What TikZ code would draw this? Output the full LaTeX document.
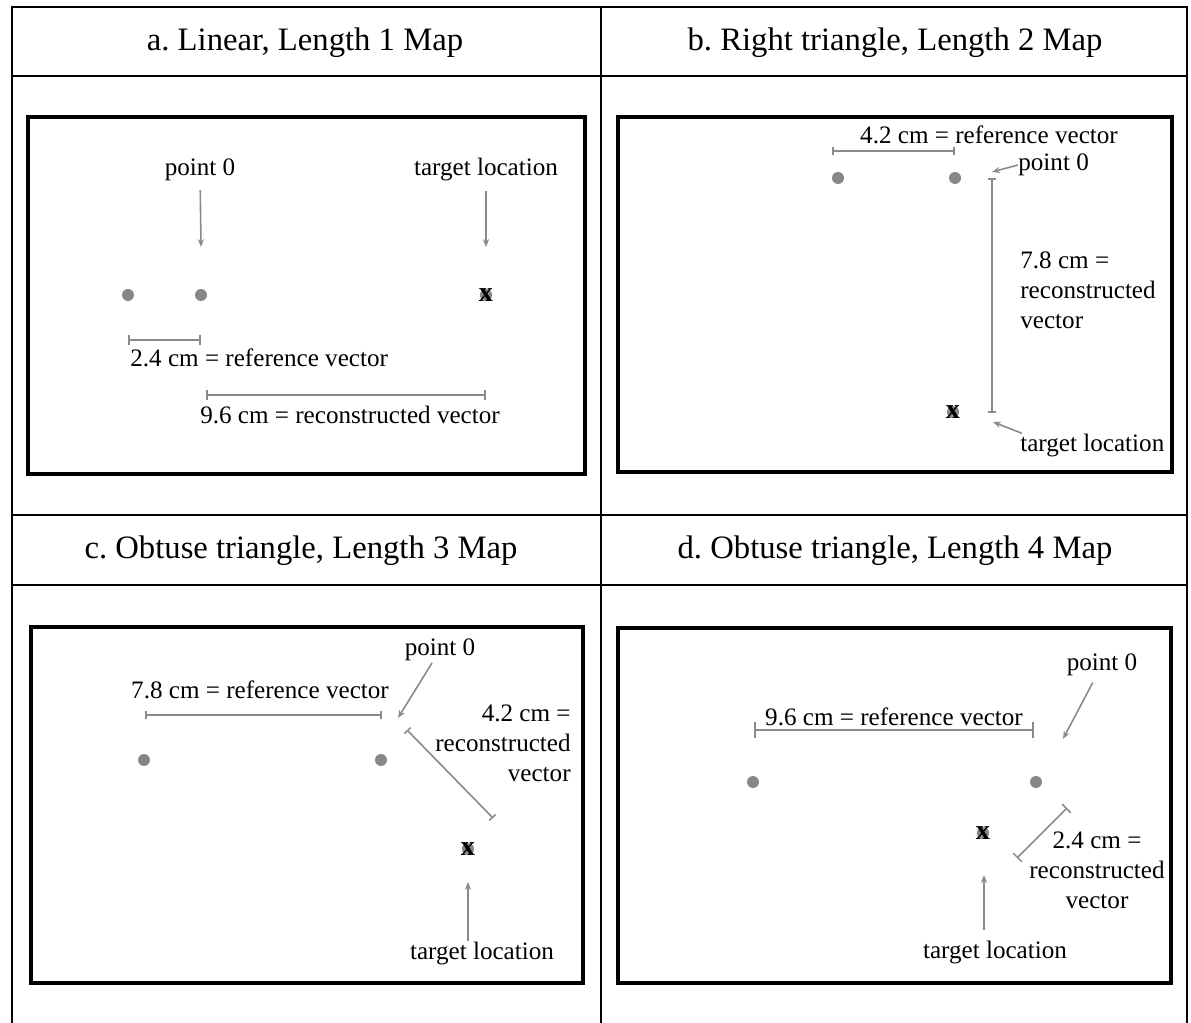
\documentclass[tikz,border=0pt]{standalone}
\usepackage{fontspec}
\setmainfont{Liberation Serif}
\usepackage{tikz}
\usetikzlibrary{arrows.meta, positioning}

\definecolor{linegray}{HTML}{8A8A8A}
\definecolor{dotgray}{HTML}{878787}
\frenchspacing

\begin{document}
\begin{tikzpicture}[
      x=0.02cm, y=-0.02cm,
      tablerule/.style={line width=0.9pt},
      mapbox/.style={draw, line width=2pt},
      head/.style={inner sep=0pt, font=\fontsize{18.6}{22}\selectfont},
      lbl/.style={inner sep=0pt, font=\fontsize{14.3}{17}\selectfont},
      mapdot/.style={circle, fill=dotgray, inner sep=0pt, minimum size=0.24cm},
      target/.style={circle, fill=dotgray, inner sep=-1.4pt, text=black, font=\bfseries\fontsize{16}{16}\selectfont},
      pointer/.style={draw=linegray, line width=0.9pt, -{Stealth[length=4.5pt, width=3.5pt]}},
      vecbar/.style={draw=linegray, line width=0.9pt, {Bar[width=5pt]}-{Bar[width=5pt]}}
    ]
      \useasboundingbox (0,0) rectangle (1191,1023);

      % table
      \draw[tablerule] (12,1023) -- (12,7) -- (1187,7) -- (1187,1023);
      \draw[tablerule] (601,7) -- (601,1023);
      \draw[tablerule] (12,76) -- (1187,76);
      \draw[tablerule] (12,515) -- (1187,515);
      \draw[tablerule] (12,585) -- (1187,585);

      \node[head] (ha) at (305,43) {a. Linear, Length 1 Map};
      \node[head] (hb) at (895,43) {b. Right triangle, Length 2 Map};
      \node[head] (hc) at (301,551) {c. Obtuse triangle, Length 3 Map};
      \node[head] (hd) at (895,551) {d. Obtuse triangle, Length 4 Map};

      \draw[mapbox] (28,117) rectangle (585,474);
      \draw[mapbox] (618,117) rectangle (1172,472);
      \draw[mapbox] (31,627) rectangle (583,983);
      \draw[mapbox] (618,628) rectangle (1171,983);

      % a. linear
      \node[mapdot] (a1) at (128,295) {};
      \node[mapdot] (a2) at (201,295) {};
      \node[target] (ta) at (486,295) {x};
      \node[lbl] (p0a) at (200,170) {point 0};
      \node[lbl] (tla) at (486,170) {target location};
      \coordinate (a p0 tip) at (201,247);
      \coordinate (a tl tip) at (486,247);
      \draw[pointer, shorten <=5pt] (p0a) -- (a p0 tip);
      \draw[pointer, shorten <=5pt] (tla) -- (a tl tip);
      \coordinate (a ref l) at (128,340);
      \coordinate (a ref r) at (201,340);
      \draw[vecbar, {Bar[width=6pt]}-{Bar[width=6pt]}] (a ref l) -- (a ref r);
      \node[lbl, anchor=west] (refa) at (130,358) {2.4 cm = reference vector};
      \coordinate (a rec l) at (206,395);
      \coordinate (a rec r) at (486,395);
      \draw[vecbar, {Bar[width=6pt]}-{Bar[width=6pt]}] (a rec l) -- (a rec r);
      \node[lbl] (reca) at (350,415) {9.6 cm = reconstructed vector};

      % b. right triangle
      \node[mapdot] (b1) at (838,178) {};
      \node[mapdot] (b2) at (955,178) {};
      \node[target] (tb) at (953,412) {x};
      \node[lbl] (refb) at (989,135) {4.2 cm = reference vector};
      \coordinate (b ref l) at (832,151);
      \coordinate (b ref r) at (955,151);
      \draw[vecbar] (b ref l) -- (b ref r);
      \node[lbl, anchor=west] (p0b) at (1018,165) {point 0};
      \coordinate (b p0 tip) at (992,172);
      \draw[pointer] (p0b.west) -- (b p0 tip);
      \coordinate (b rec t) at (992,178);
      \coordinate (b rec b) at (992,413);
      \draw[vecbar] (b rec t) -- (b rec b);
      \node[lbl, align=left, anchor=west] (recb) at (1020,290) {7.8 cm =\\reconstructed\\vector};
      \node[lbl, anchor=west] (tlb) at (1020,445) {target location};
      \coordinate (b tl tip) at (993,422);
      \draw[pointer] ([xshift=1pt]tlb.north west) -- (b tl tip);

      % c. obtuse triangle
      \node[mapdot] (c1) at (144,760) {};
      \node[mapdot] (c2) at (381,760) {};
      \node[target] (tc) at (468,849) {x};
      \node[lbl] (p0c) at (440,650) {point 0};
      \coordinate (c p0 tip) at (398,718);
      \draw[pointer, shorten <=1pt] (p0c) -- (c p0 tip);
      \node[lbl] (refc) at (260,690) {7.8 cm = reference vector};
      \coordinate (c ref l) at (145,715);
      \coordinate (c ref r) at (382,715);
      \draw[vecbar] (c ref l) -- (c ref r);
      \coordinate (c rec t) at (407,730);
      \coordinate (c rec b) at (493,818);
      \draw[vecbar] (c rec t) -- (c rec b);
      \node[lbl, align=right, anchor=east] (recc) at (571,743) {4.2 cm =\\reconstructed\\vector};
      \node[lbl] (tlc) at (482,953) {target location};
      \coordinate (c tl tip) at (468,882);
      \draw[pointer] (tlc.north -| c tl tip) -- (c tl tip);

      % d. obtuse triangle
      \node[mapdot] (d1) at (753,782) {};
      \node[mapdot] (d2) at (1036,782) {};
      \node[target] (td) at (983,833) {x};
      \node[lbl] (p0d) at (1102,665) {point 0};
      \coordinate (d p0 tip) at (1063,739);
      \draw[pointer, shorten <=4pt] (p0d) -- (d p0 tip);
      \node[lbl] (refd) at (894,717) {9.6 cm = reference vector};
      \coordinate (d ref l) at (754,730);
      \coordinate (d ref r) at (1034,730);
      \draw[vecbar, line width=1.3pt, {Bar[width=9pt]}-{Bar[width=9pt]}] (d ref l) -- (d ref r);
      \coordinate (d rec t) at (1067,808);
      \coordinate (d rec b) at (1017,858);
      \draw[vecbar, {Bar[width=7pt]}-{Bar[width=7pt]}] (d rec t) -- (d rec b);
      \node[lbl, align=center] (recd) at (1097,870) {2.4 cm =\\reconstructed\\vector};
      \node[lbl] (tld) at (995,952) {target location};
      \coordinate (d tl tip) at (984,875);
      \draw[pointer, shorten <=6pt] (tld.north -| d tl tip) -- (d tl tip);
    \end{tikzpicture}
\end{document}
